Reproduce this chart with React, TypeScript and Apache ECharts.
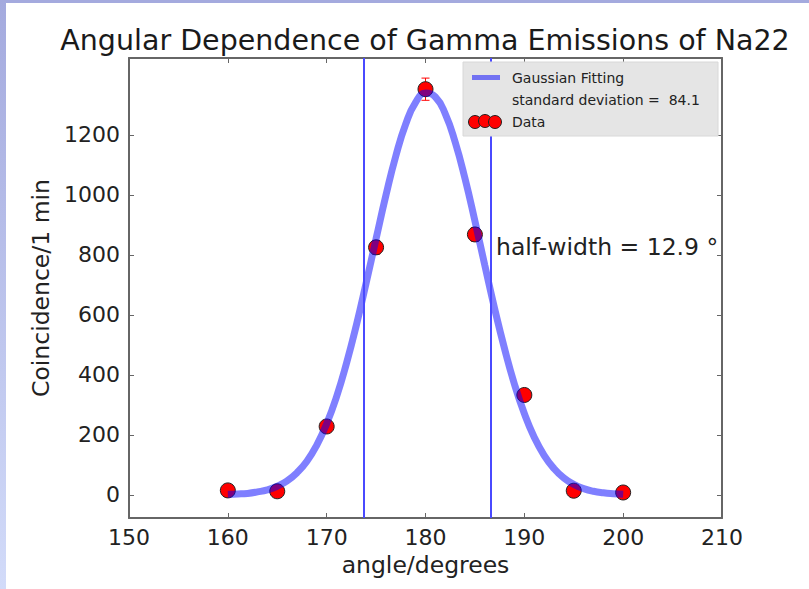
import React, { useEffect, useRef } from "react";
import * as echarts from "echarts";

const angles = [160, 165, 170, 175, 180, 185, 190, 195, 200];
const counts = [15, 12, 228, 825, 1352, 868, 333, 14, 8];
const countErrors = [4, 3, 15, 23, 37, 23, 18, 4, 3];

const fitAngles = [
  160, 161, 162, 163, 164, 165, 166, 167, 168, 169, 170, 171, 172, 173, 174, 175, 176, 177, 178, 179, 180,
  181, 182, 183, 184, 185, 186, 187, 188, 189, 190, 191, 192, 193, 194, 195, 196, 197, 198, 199, 200,
];
const fitValues = [
  2, 3, 5, 10, 17, 29, 47, 74, 112, 166, 237, 327, 438, 565, 707, 854, 999, 1130, 1236, 1308, 1339,
  1326, 1270, 1176, 1054, 913, 765, 620, 487, 369, 271, 192, 132, 88, 56, 35, 21, 12, 7, 4, 2,
];
const halfWidthLines = [173.75, 186.65];
const yTickValues = [0, 200, 400, 600, 800, 1000, 1200];

const titleText = "Angular Dependence of Gamma Emissions of Na22";
const xName = "angle/degrees";
const yName = "Coincidence/1 min";
const legendFit = "Gaussian Fitting";
const legendStd = "standard deviation =  84.1";
const legendData = "Data";
const halfWidthText = "half-width = 12.9 °";

const FONT = "DejaVu Sans";
const AXIS_COLOR = "#666666";

export default function App() {
  const ref = useRef<HTMLDivElement>(null);

  useEffect(() => {
    if (!ref.current) return;
    const chart = echarts.init(ref.current, null, { renderer: "svg" });

    const axisLineStyle = { lineStyle: { color: AXIS_COLOR, width: 2 } };
    const tickStyle = { inside: true, length: 5, lineStyle: { color: AXIS_COLOR, width: 1 } };

    const option: any = {
      animation: false,
      backgroundColor: "#ffffff",
      grid: {
        left: 129,
        right: 87,
        top: 58,
        bottom: 71,
        containLabel: false,
        outerBoundsMode: "none",
      },
      xAxis: [
        {
          type: "value",
          min: 150,
          max: 210,
          interval: 10,
          position: "bottom",
          name: xName,
          nameLocation: "middle",
          nameGap: 34,
          nameTextStyle: { fontFamily: FONT, fontSize: 23.5, color: "#222" },
          axisLine: { show: true, onZero: false, ...axisLineStyle },
          axisTick: { show: true, ...tickStyle },
          axisLabel: { fontFamily: FONT, fontSize: 22, color: "#222", margin: 8, formatter: (v: number) => String(v) },
          splitLine: { show: false },
        },
        {
          type: "value",
          min: 150,
          max: 210,
          interval: 10,
          position: "top",
          axisLine: { show: true, onZero: false, ...axisLineStyle },
          axisTick: { show: true, ...tickStyle },
          axisLabel: { show: false },
          splitLine: { show: false },
        },
      ],
      yAxis: [
        {
          type: "value",
          min: -77,
          max: 1456,
          position: "left",
          name: yName,
          nameLocation: "middle",
          nameGap: 69,
          nameRotate: 90,
          nameTextStyle: { fontFamily: FONT, fontSize: 23.5, color: "#222" },
          axisLine: { show: true, onZero: false, ...axisLineStyle },
          axisTick: { show: true, ...tickStyle, customValues: yTickValues },
          axisLabel: {
            fontFamily: FONT,
            fontSize: 22,
            color: "#222",
            margin: 9,
            customValues: yTickValues,
            formatter: (v: number) => String(v),
          },
          splitLine: { show: false },
        },
        {
          type: "value",
          min: -77,
          max: 1456,
          position: "right",
          axisLine: { show: true, onZero: false, ...axisLineStyle },
          axisTick: { show: true, ...tickStyle, customValues: yTickValues },
          axisLabel: { show: false, customValues: yTickValues },
          splitLine: { show: false },
        },
      ],
      series: [
        {
          type: "custom",
          name: "errors",
          xAxisIndex: 0,
          yAxisIndex: 0,
          z: 1,
          data: angles.map((a, i) => [a, counts[i], countErrors[i]]),
          renderItem: (params: any, api: any) => {
            const x = api.value(0);
            const y = api.value(1);
            const e = api.value(2);
            const top = api.coord([x, y + e]);
            const bot = api.coord([x, y - e]);
            const cap = 4;
            const style = { stroke: "#ff0000", lineWidth: 1 };
            return {
              type: "group",
              children: [
                { type: "line", shape: { x1: top[0], y1: top[1], x2: bot[0], y2: bot[1] }, style },
                { type: "line", shape: { x1: top[0] - cap, y1: top[1], x2: top[0] + cap, y2: top[1] }, style },
                { type: "line", shape: { x1: bot[0] - cap, y1: bot[1], x2: bot[0] + cap, y2: bot[1] }, style },
              ],
            };
          },
        },
        {
          type: "scatter",
          name: legendData,
          data: angles.map((a, i) => [a, counts[i]]),
          symbol: "circle",
          symbolSize: 15,
          z: 2,
          itemStyle: { color: "#ff0000", borderColor: "#222", borderWidth: 1, opacity: 1 },
        },
        {
          type: "line",
          name: legendFit,
          data: fitAngles.map((a, i) => [a, fitValues[i]]),
          showSymbol: false,
          symbol: "none",
          smooth: true,
          z: 3,
          lineStyle: { color: "rgba(0,0,255,0.5)", width: 7 },
          markLine: {
            silent: true,
            symbol: ["none", "none"],
            label: { show: false },
            lineStyle: { color: "#4a4aff", width: 2, type: "solid" },
            data: halfWidthLines.map((v) => ({ xAxis: v })),
          },
        },
      ],
      graphic: [
        { type: "rect", left: 0, top: 0, shape: { width: 809, height: 3 }, style: { fill: "#a4aade" }, z: 100 },
        {
          type: "rect",
          left: 0,
          top: 0,
          shape: { width: 6, height: 589 },
          style: {
            fill: new echarts.graphic.LinearGradient(0, 0, 0, 1, [
              { offset: 0, color: "#a4aade" },
              { offset: 1, color: "#d2dbf9" },
            ]),
          },
          z: 100,
        },
        {
          type: "text",
          x: 425,
          y: 40,
          style: {
            text: titleText,
            fontFamily: FONT,
            fontSize: 28.5,
            fill: "#1a1a1a",
            textAlign: "center",
            verticalAlign: "middle",
          },
          z: 100,
        },
        {
          type: "rect",
          x: 463,
          y: 62,
          shape: { width: 255, height: 74 },
          style: { fill: "#e5e5e5", stroke: "#d8d8d8", lineWidth: 1 },
          z: 50,
        },
        {
          type: "line",
          shape: { x1: 472, y1: 77.5, x2: 500, y2: 77.5 },
          style: { stroke: "rgba(0,0,255,0.5)", lineWidth: 5 },
          z: 51,
        },
        {
          type: "text",
          x: 512,
          y: 78,
          style: { text: legendFit, fontFamily: FONT, fontSize: 14, fill: "#222", verticalAlign: "middle" },
          z: 51,
        },
        {
          type: "text",
          x: 512,
          y: 100,
          style: { text: legendStd, fontFamily: FONT, fontSize: 14, fill: "#222", verticalAlign: "middle" },
          z: 51,
        },
        { type: "circle", shape: { cx: 475, cy: 122, r: 6.5 }, style: { fill: "#ff0000", stroke: "#222", lineWidth: 1 }, z: 51 },
        { type: "circle", shape: { cx: 485, cy: 121, r: 6.5 }, style: { fill: "#ff0000", stroke: "#222", lineWidth: 1 }, z: 52 },
        { type: "circle", shape: { cx: 495, cy: 122, r: 6.5 }, style: { fill: "#ff0000", stroke: "#222", lineWidth: 1 }, z: 53 },
        {
          type: "text",
          x: 512,
          y: 122,
          style: { text: legendData, fontFamily: FONT, fontSize: 14, fill: "#222", verticalAlign: "middle" },
          z: 51,
        },
        {
          type: "text",
          x: 496,
          y: 247,
          style: { text: halfWidthText, fontFamily: FONT, fontSize: 23.5, fill: "#222", verticalAlign: "middle" },
          z: 40,
        },
      ],
    };

    chart.setOption(option);
    return () => chart.dispose();
  }, []);

  return (
    <div
      ref={ref}
      style={{ position: "fixed", left: 0, top: 0, width: 809, height: 589, background: "#fff" }}
    />
  );
}
